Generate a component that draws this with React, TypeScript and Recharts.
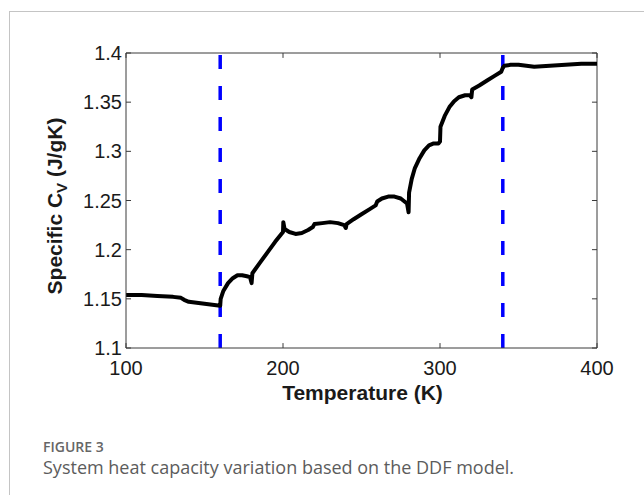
import React from "react";
import {
  LineChart,
  Line,
  XAxis,
  YAxis,
  ReferenceLine,
} from "recharts";

// temperature (K) and specific heat (J/gK)
const temps = [
  100, 110, 120, 130, 135, 137, 140, 150, 160, 160.3, 162, 165, 168, 171, 174,
  177, 179, 180, 180.5, 185, 190, 195, 200, 200.2, 201, 204, 208, 212, 216, 219,
  220, 225, 230, 235, 239, 240, 240.5, 245, 250, 255, 259, 260, 263, 267, 271,
  275, 279, 280, 280.3, 282, 284, 287, 290, 293, 296, 299, 300, 300.3, 303, 306,
  309, 312, 316, 319, 320, 320.5, 325, 330, 335, 339, 340, 341, 345, 350, 355,
  360, 370, 380, 390, 400,
];
const cvValues = [
  1.154, 1.154, 1.153, 1.152, 1.151, 1.149, 1.147, 1.145, 1.143, 1.15, 1.158,
  1.166, 1.171, 1.174, 1.174, 1.173, 1.172, 1.166, 1.176, 1.186, 1.197, 1.208,
  1.218, 1.228, 1.221, 1.218, 1.216, 1.217, 1.22, 1.223, 1.226, 1.227, 1.228,
  1.227, 1.225, 1.222, 1.226, 1.231, 1.236, 1.241, 1.245, 1.249, 1.252, 1.254,
  1.254, 1.252, 1.247, 1.238, 1.258, 1.272, 1.283, 1.293, 1.301, 1.306, 1.308,
  1.308, 1.31, 1.325, 1.336, 1.345, 1.351, 1.355, 1.357, 1.357, 1.355, 1.363,
  1.367, 1.372, 1.377, 1.381, 1.385, 1.387, 1.388, 1.388, 1.387, 1.386, 1.387,
  1.388, 1.389, 1.389,
];
const phaseBounds = [160, 340];
const xTicks = [100, 200, 300, 400];
const yTicks = [1.1, 1.15, 1.2, 1.25, 1.3, 1.35, 1.4];

const data = temps.map((t, i) => ({ t, cv: cvValues[i] }));

const X_MIN = 100;
const X_MAX = 400;
const Y_MIN = 1.1;
const Y_MAX = 1.4;
// inward tick lengths in data units (~5px)
const xTickLen = 0.005;
const yTickLen = 3.2;

const axisColor = "#3a3a3a";
const textColor = "#1a1a1a";
const font = "'Liberation Sans', Arial, sans-serif";

const XTick = (props: any) => (
  <text
    x={props.x}
    y={props.y + 27}
    textAnchor="middle"
    fontFamily={font}
    fontSize={20}
    fill={textColor}
  >
    {props.payload.value}
  </text>
);

const YTick = (props: any) => (
  <text
    x={props.x - 4}
    y={props.y + 7}
    textAnchor="end"
    fontFamily={font}
    fontSize={20}
    fill={textColor}
  >
    {props.payload.value}
  </text>
);

const YLabel = () => (
  <text
    x={0}
    y={0}
    transform="translate(54, 198) rotate(-90)"
    textAnchor="middle"
    fontFamily={font}
    fontWeight="bold"
    fontSize={21}
    fill={textColor}
  >
    Specific C
    <tspan fontSize={15} dy={5}>
      V
    </tspan>
    <tspan dy={-5}> (J/gK)</tspan>
  </text>
);

const XLabel = () => (
  <text
    x={354.5}
    y={392}
    textAnchor="middle"
    fontFamily={font}
    fontWeight="bold"
    fontSize={21}
    fill={textColor}
  >
    Temperature (K)
  </text>
);

export default function App() {
  return (
    <div
      style={{
        position: "absolute",
        left: 8,
        top: 8,
        width: 636,
        height: 487,
        overflow: "hidden",
        background: "#fff",
      }}
    >
      <div
        style={{
          position: "absolute",
          left: 1,
          top: 3,
          width: 700,
          height: 520,
          borderLeft: "1px solid #c4c4c4",
          borderTop: "1px solid #c4c4c4",
        }}
      />
      <div style={{ position: "absolute", left: 0, top: 0 }}>
        <LineChart
          width={636}
          height={420}
          data={data}
          margin={{ top: 45, right: 47, bottom: 50, left: 58 }}
        >
          <XAxis
            dataKey="t"
            type="number"
            domain={[X_MIN, X_MAX]}
            ticks={xTicks}
            allowDataOverflow
            stroke={axisColor}
            tickLine={false}
            tickSize={0}
            tickMargin={0}
            tick={<XTick />}
            height={30}
            label={<XLabel />}
          />
          <YAxis
            type="number"
            domain={[Y_MIN, Y_MAX]}
            ticks={yTicks}
            allowDataOverflow
            stroke={axisColor}
            tickLine={false}
            tickSize={0}
            tickMargin={0}
            tick={<YTick />}
            width={60}
            label={<YLabel />}
          />
          {/* box: top and right edges */}
          <ReferenceLine y={Y_MAX} stroke={axisColor} />
          <ReferenceLine x={X_MAX} stroke={axisColor} />
          {/* inward tick marks on all four sides */}
          {xTicks.map((t) => (
            <ReferenceLine
              key={"xb" + t}
              segment={[
                { x: t, y: Y_MIN },
                { x: t, y: Y_MIN + xTickLen },
              ]}
              stroke={axisColor}
            />
          ))}
          {xTicks.map((t) => (
            <ReferenceLine
              key={"xt" + t}
              segment={[
                { x: t, y: Y_MAX },
                { x: t, y: Y_MAX - xTickLen },
              ]}
              stroke={axisColor}
            />
          ))}
          {yTicks.map((v) => (
            <ReferenceLine
              key={"yl" + v}
              segment={[
                { x: X_MIN, y: v },
                { x: X_MIN + yTickLen, y: v },
              ]}
              stroke={axisColor}
            />
          ))}
          {yTicks.map((v) => (
            <ReferenceLine
              key={"yr" + v}
              segment={[
                { x: X_MAX, y: v },
                { x: X_MAX - yTickLen, y: v },
              ]}
              stroke={axisColor}
            />
          ))}
          {phaseBounds.map((x) => (
            <ReferenceLine
              key={x}
              x={x}
              stroke="#0000ff"
              strokeWidth={3.5}
              strokeDasharray="14 17"
            />
          ))}
          <Line
            type="linear"
            dataKey="cv"
            stroke="#000"
            strokeWidth={4}
            strokeLinejoin="round"
            strokeLinecap="round"
            dot={false}
            isAnimationActive={false}
          />
        </LineChart>
      </div>
      <div
        style={{
          position: "absolute",
          left: 35,
          top: 432,
          lineHeight: "14px",
          fontFamily: "'Open Sans', sans-serif",
          fontSize: 14,
          fontWeight: 600,
          color: "#666",
        }}
      >
        FIGURE 3
      </div>
      <div
        style={{
          position: "absolute",
          left: 35,
          top: 449,
          lineHeight: "20px",
          fontFamily: "'Open Sans', sans-serif",
          fontSize: 18,
          color: "#5c5c5c",
        }}
      >
        System heat capacity variation based on the DDF model.
      </div>
    </div>
  );
}
